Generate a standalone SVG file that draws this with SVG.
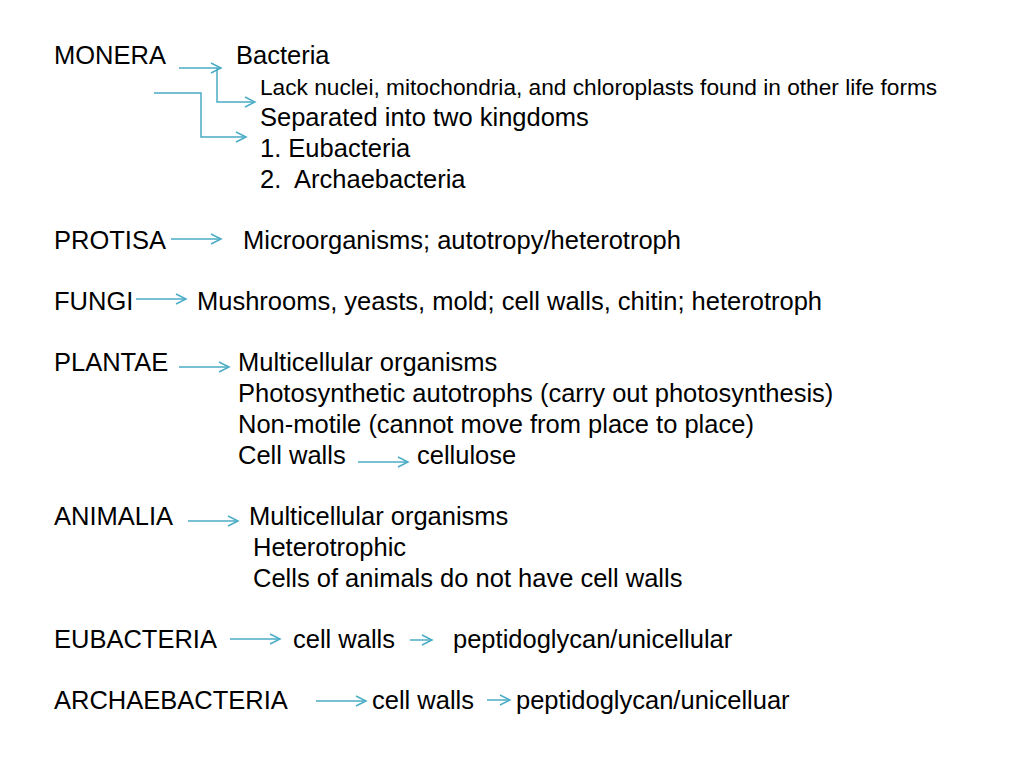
<svg xmlns="http://www.w3.org/2000/svg" width="1024" height="768" viewBox="0 0 1024 768">
<defs>
<marker id="ah" markerWidth="14" markerHeight="14" refX="11" refY="7" orient="auto" markerUnits="userSpaceOnUse">
<path d="M1,2 L11,7 L1,12" fill="none" stroke="#4BACC6" stroke-width="1.5"/>
</marker>
<style>
text{font-family:"Liberation Sans",Arial,sans-serif;font-size:25.5px;fill:#000}
.s{font-size:22.7px}
.c{fill:none;stroke:#4BACC6;stroke-width:1.5;marker-end:url(#ah)}
</style>
</defs>
<rect width="1024" height="768" fill="#fff"/>
<g id="connectors">
<path class="c" d="M179,68 H221"/>
<path class="c" d="M217,68 V102 H255"/>
<path class="c" d="M154,93 H201 V137 H246"/>
<path class="c" d="M171,239 H221"/>
<path class="c" d="M136,299 H186"/>
<path class="c" d="M179,367 H229"/>
<path class="c" d="M358,462 H408"/>
<path class="c" d="M188,521 H238"/>
<path class="c" d="M230,639 H280"/>
<path class="c" d="M410,640 H432"/>
<path class="c" d="M316,701 H366"/>
<path class="c" d="M487,700 H510"/>
</g>
<g id="monera">
<text x="54" y="64">MONERA</text>
<text x="236" y="64">Bacteria</text>
<text class="s" x="260" y="95">Lack nuclei, mitochondria, and chloroplasts found in other life forms</text>
<text x="260" y="126">Separated into two kingdoms</text>
<text x="260" y="157">1. Eubacteria</text>
<text x="260" y="188" xml:space="preserve">2.  Archaebacteria</text>
</g>
<g id="protisa">
<text x="54" y="249">PROTISA</text>
<text x="243" y="249">Microorganisms; autotropy/heterotroph</text>
</g>
<g id="fungi">
<text x="54" y="310">FUNGI</text>
<text x="197" y="310">Mushrooms, yeasts, mold; cell walls, chitin; heterotroph</text>
</g>
<g id="plantae">
<text x="54" y="371">PLANTAE</text>
<text x="238" y="371">Multicellular organisms</text>
<text x="238" y="402">Photosynthetic autotrophs (carry out photosynthesis)</text>
<text x="238" y="433">Non-motile (cannot move from place to place)</text>
<text x="238" y="464">Cell walls</text>
<text x="417" y="464">cellulose</text>
</g>
<g id="animalia">
<text x="54" y="525">ANIMALIA</text>
<text x="249" y="525">Multicellular organisms</text>
<text x="253" y="556">Heterotrophic</text>
<text x="253" y="587">Cells of animals do not have cell walls</text>
</g>
<g id="eubacteria">
<text x="54" y="648">EUBACTERIA</text>
<text x="293" y="648">cell walls</text>
<text x="453" y="648">peptidoglycan/unicellular</text>
</g>
<g id="archaebacteria">
<text x="54" y="709">ARCHAEBACTERIA</text>
<text x="372" y="709">cell walls</text>
<text x="516" y="709">peptidoglycan/unicelluar</text>
</g>
</svg>
